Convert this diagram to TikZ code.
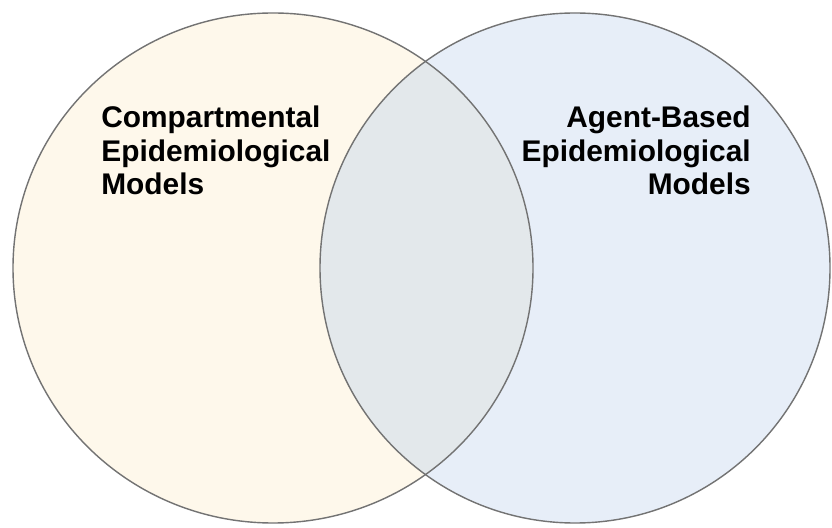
\documentclass[tikz,border=0pt]{standalone}
\usepackage{fontspec}
\setmainfont{Liberation Sans}
\usepackage{xcolor}
\usepackage{tikz}
\definecolor{creamcol}{HTML}{FEF8EB}
\definecolor{skycol}{HTML}{E7EEF8}
\definecolor{overlapcol}{HTML}{E3E8EB}
\definecolor{edgecol}{rgb}{0.45,0.45,0.45}

\begin{document}
\begin{tikzpicture}[every node/.style={font=\fontsize{17}{18.8}\selectfont\bfseries, inner sep=0pt}]
  \useasboundingbox (0,0) rectangle (16.64,10.54);
  \fill[white] (0,0) rectangle (16.64,10.54);
  % the two sets
  \fill[creamcol] (5.46,5.18) ellipse (5.2 and 5.1);
  \fill[skycol] (11.5,5.18) circle (5.1);
  \begin{scope}
    \clip (5.46,5.18) ellipse (5.2 and 5.1);
    \fill[overlapcol] (11.5,5.18) circle (5.1);
  \end{scope}
  \draw[edgecol,line width=0.8pt] (5.46,5.18) ellipse (5.2 and 5.1);
  \draw[edgecol,line width=0.8pt] (11.5,5.18) circle (5.1);
  % labels
  \node[anchor=north west,align=left] (cmpt) at (2.02,8.42) {Compartmental\\Epidemiological\\Models};
  \node[anchor=north east,align=right] (abm) at (15.02,8.42) {Agent-Based\\Epidemiological\\Models};
\end{tikzpicture}
\end{document}
